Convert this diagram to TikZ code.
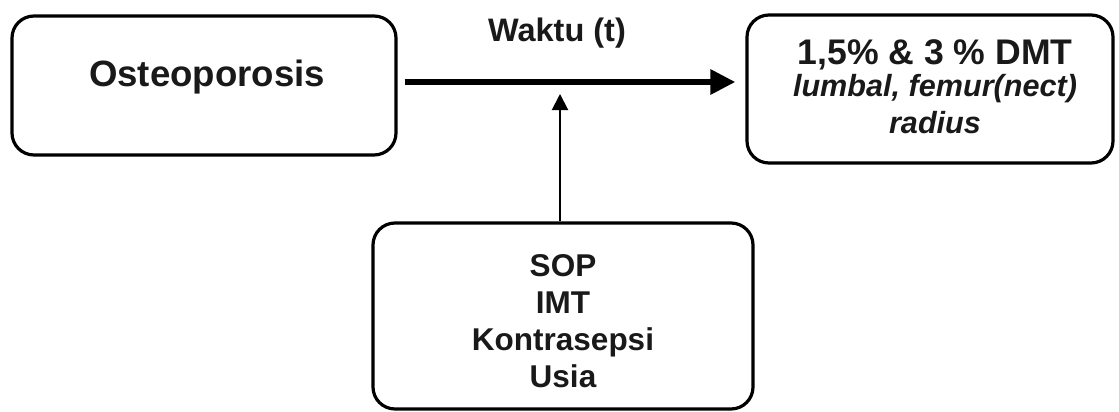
\documentclass[tikz,border=0pt]{standalone}
\usepackage{fontspec}
\setmainfont{Liberation Sans}
\usetikzlibrary{arrows.meta}
\tikzset{
  box/.style={draw=black, line width=3.2pt, rounded corners=22pt, inner sep=0pt, fill=none},
  lbl/.style={text=black!90, font=\bfseries, inner sep=0pt, align=center},
  bigarrow/.style={line width=6pt, -{Triangle[length=25pt,width=24pt]}},
  thinarrow/.style={line width=2pt, -{Triangle[length=16pt,width=16pt]}}
}
\begin{document}
\begin{tikzpicture}[x=1pt,y=-1pt]
\useasboundingbox (0,0) rectangle (1119,412);
% boxes
\node[box, minimum width=384pt, minimum height=139pt] (osteo) at (204,85.5) {};
\node[box, minimum width=366pt, minimum height=148pt] (dmt) at (930,89) {};
\node[box, minimum width=380pt, minimum height=186pt] (faktor) at (563,316) {};
% texts
\node[lbl, font=\bfseries\fontsize{36.6}{40}\selectfont] (tosteo) at (207,77) {Osteoporosis};
\node[lbl, font=\bfseries\fontsize{32.5}{36}\selectfont] (twaktu) at (557,33) {Waktu (t)};
\node[lbl, font=\bfseries\fontsize{35.6}{40}\selectfont] (tdmt1) at (935,55) {1,5\% \& 3 \% DMT};
\node[lbl, font=\bfseries\itshape\fontsize{30.6}{34}\selectfont] (tdmt2) at (935,89) {lumbal, femur(nect)};
\node[lbl, font=\bfseries\itshape\fontsize{30.6}{34}\selectfont] (tdmt3) at (935,123) {radius};
\node[lbl, font=\bfseries\fontsize{31.5}{37}\selectfont] (tfak) at (563,321) {SOP\\IMT\\Kontrasepsi\\Usia};
% connectors
\draw[bigarrow, shorten <=7pt, shorten >=10pt] (osteo.east |- 0,82) -- (dmt.west |- 0,82);
\coordinate (tip) at (560,94);
\draw[thinarrow] (faktor.north -| tip) -- (tip);
\end{tikzpicture}
\end{document}
